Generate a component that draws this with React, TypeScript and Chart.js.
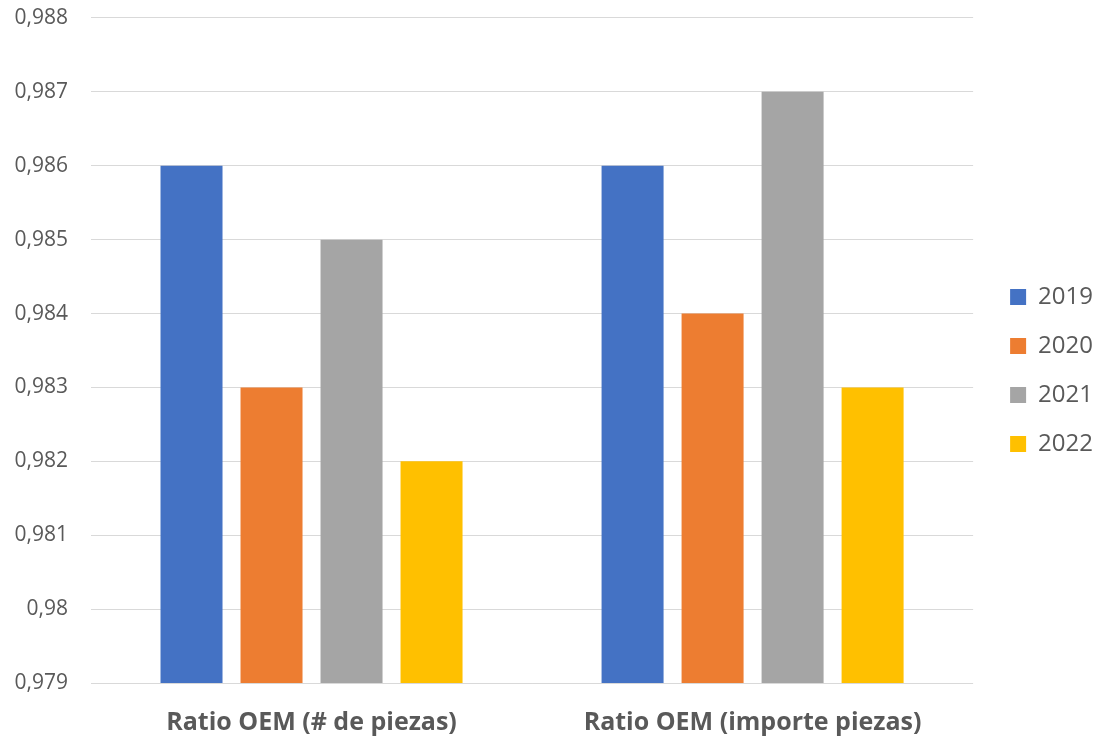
import React, { useEffect, useRef } from "react";
import { Chart, registerables } from "chart.js";

Chart.register(...registerables);

const categories = ["Ratio OEM (# de piezas)", "Ratio OEM (importe piezas)"];
const seriesLabels = ["2019", "2020", "2021", "2022"];
const values2019 = [0.986, 0.986];
const values2020 = [0.983, 0.984];
const values2021 = [0.985, 0.987];
const values2022 = [0.982, 0.983];
const seriesColors = ["#4472C4", "#ED7D31", "#A5A5A5", "#FFC000"];
const yMin = 0.979;
const yMax = 0.988;
const yStep = 0.001;

const FONT = "'Open Sans', sans-serif";
const TEXT = "#595959";

export default function App() {
  const ref = useRef<HTMLCanvasElement | null>(null);
  useEffect(() => {
    if (!ref.current) return;
    const seriesValues = [values2019, values2020, values2021, values2022];
    const chart = new Chart(ref.current, {
      type: "bar",
      data: {
        labels: categories,
        datasets: seriesLabels.map((l, i) => ({
          label: l,
          data: seriesValues[i],
          backgroundColor: seriesColors[i],
          borderWidth: 0,
          categoryPercentage: 0.7256,
          barPercentage: 0.775,
        })),
      },
      options: {
        animation: false,
        responsive: false,
        maintainAspectRatio: false,
        layout: { padding: { top: 4, left: 0, bottom: 0, right: -7 } },
        plugins: {
          tooltip: { enabled: false },
          legend: {
            position: "right",
            labels: {
              boxWidth: 16,
              boxHeight: 16,
              padding: 25,
              color: TEXT,
              font: { family: FONT, size: 24 },
            },
          },
        },
        scales: {
          x: {
            grid: { display: false },
            border: { display: false },
            ticks: {
              color: TEXT,
              padding: 19,
              maxRotation: 0,
              font: { family: FONT, size: 25, weight: "bold", lineHeight: 1 },
            },
            afterFit: (s: any) => {
              s.height = 54;
            },
          },
          y: {
            min: yMin,
            max: yMax,
            grid: {
              color: "#D9D9D9",
              lineWidth: 1,
              drawTicks: true,
              tickLength: 23,
              tickColor: "rgba(0,0,0,0)",
            },
            border: { display: false },
            ticks: {
              stepSize: yStep,
              color: TEXT,
              padding: 0,
              font: { family: FONT, size: 21, lineHeight: 1.71 },
              callback: (v: any) => Number(Number(v).toFixed(3)).toString().replace(".", ","),
            },
            afterFit: (s: any) => {
              s.width = 91;
            },
          },
          yR: {
            type: "linear",
            position: "right",
            display: true,
            grid: { display: false },
            border: { display: false },
            ticks: { display: false },
            afterFit: (s: any) => {
              s.width = 12;
            },
          },
        },
      },
    });
    return () => chart.destroy();
  }, []);
  return (
    <canvas
      ref={ref}
      width={1096}
      height={737}
      style={{ display: "block", position: "absolute", left: 0, top: 0 }}
    />
  );
}
